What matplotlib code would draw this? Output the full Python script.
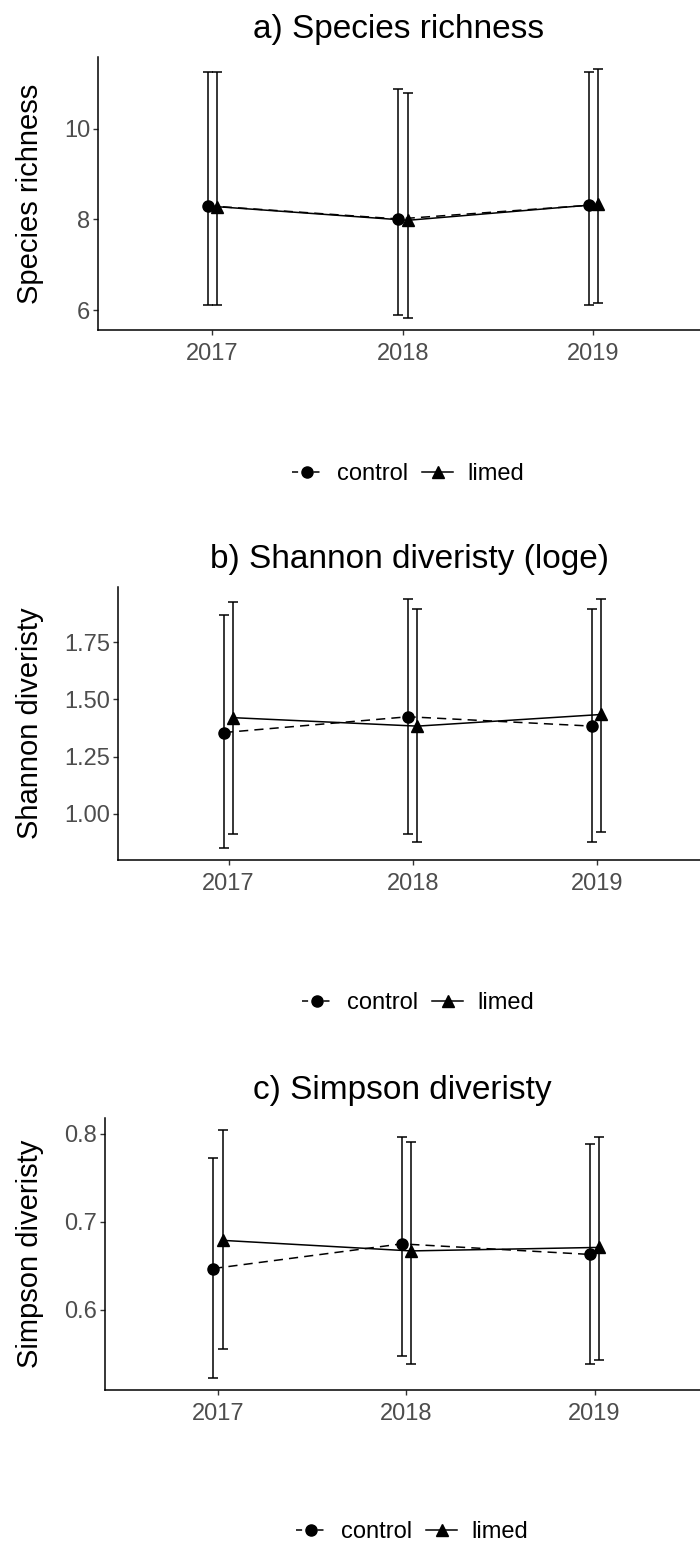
import matplotlib
matplotlib.use("Agg")
import matplotlib.pyplot as plt
from matplotlib.lines import Line2D
from matplotlib.ticker import FormatStrFormatter

plt.rcParams['font.family'] = ['Liberation Sans', 'DejaVu Sans']

years = [2017, 2018, 2019]
year_labels = ["2017", "2018", "2019"]
groups = ["control", "limed"]

# a) Species richness: mean with lower / upper interval bounds
rich_control = [8.30, 8.01, 8.31]
rich_control_lo = [6.11, 5.89, 6.11]
rich_control_hi = [11.24, 10.87, 11.25]
rich_limed = [8.28, 7.98, 8.33]
rich_limed_lo = [6.11, 5.84, 6.15]
rich_limed_hi = [11.24, 10.78, 11.30]

# b) Shannon diversity (log e)
shan_control = [1.355, 1.424, 1.383]
shan_control_lo = [0.852, 0.913, 0.878]
shan_control_hi = [1.868, 1.937, 1.893]
shan_limed = [1.420, 1.383, 1.434]
shan_limed_lo = [0.913, 0.878, 0.922]
shan_limed_hi = [1.927, 1.893, 1.937]

# c) Simpson diversity
simp_control = [0.647, 0.675, 0.663]
simp_control_lo = [0.523, 0.548, 0.539]
simp_control_hi = [0.773, 0.797, 0.789]
simp_limed = [0.679, 0.667, 0.671]
simp_limed_lo = [0.555, 0.539, 0.543]
simp_limed_hi = [0.804, 0.791, 0.796]

rich_ticks = [6, 8, 10]
shan_ticks = [1.00, 1.25, 1.50, 1.75]
simp_ticks = [0.6, 0.7, 0.8]

W, H = 700, 1546
fig = plt.figure(figsize=(W / 100, H / 100), dpi=100)


def px_rect(left, top, bottom, right=W):
    return [left / W, 1 - bottom / H, (right - left) / W, (bottom - top) / H]


panels = [
    dict(title="a) Species richness", ylabel="Species richness",
         ctrl=(rich_control, rich_control_lo, rich_control_hi),
         lime=(rich_limed, rich_limed_lo, rich_limed_hi),
         ticks=rich_ticks, fmt="%d", rect=px_rect(98, 57, 330), legend=(408, 474)),
    dict(title="b) Shannon diveristy (loge)", ylabel="Shannon diveristy",
         ctrl=(shan_control, shan_control_lo, shan_control_hi),
         lime=(shan_limed, shan_limed_lo, shan_limed_hi),
         ticks=shan_ticks, fmt="%.2f", rect=px_rect(118, 587, 860), legend=(418, 1003)),
    dict(title="c) Simpson diveristy", ylabel="Simpson diveristy",
         ctrl=(simp_control, simp_control_lo, simp_control_hi),
         lime=(simp_limed, simp_limed_lo, simp_limed_hi),
         ticks=simp_ticks, fmt="%.1f", rect=px_rect(105, 1118, 1390), legend=(412, 1532)),
]

dodge = 0.025
lw = 1.1
dash = (0, (6, 4))

for p in panels:
    ax = fig.add_axes(p["rect"])
    for (mean, lo, hi), shift, ls, mk, ms in [
        (p["ctrl"], -dodge, dash, "o", 8),
        (p["lime"], dodge, "-", "^", 8.5),
    ]:
        x = [y + shift for y in years]
        err = [[m - l for m, l in zip(mean, lo)], [h - m for m, h in zip(mean, hi)]]
        ax.errorbar(x, mean, yerr=err, fmt="none", ecolor="black",
                    elinewidth=lw, capsize=3.4, capthick=lw, zorder=2)
        ax.plot(x, mean, color="black", lw=lw, ls=ls, zorder=3)
        ax.plot(x, mean, ls="none", marker=mk, ms=ms, color="black", zorder=4)

    ax.set_xlim(2016.4, 2019.56)
    ax.set_xticks(years)
    ax.set_xticklabels(year_labels)
    ax.set_yticks(p["ticks"])
    ax.yaxis.set_major_formatter(FormatStrFormatter(p["fmt"]))
    ax.margins(y=0.05)

    for side in ("top", "right"):
        ax.spines[side].set_visible(False)
    for side in ("left", "bottom"):
        ax.spines[side].set_linewidth(1.1)
        ax.spines[side].set_color("black")
    ax.tick_params(axis="both", direction="out", length=3.5, width=1.0,
                   color="#333333", labelsize=17, labelcolor="#4D4D4D")
    ax.tick_params(axis="x", pad=6)
    ax.tick_params(axis="y", pad=2)

    ax.set_title(p["title"], fontsize=24, color="black", pad=14)
    ax.set_ylabel(p["ylabel"], fontsize=21, color="black", va="center")
    ax.yaxis.set_label_coords(30 / W, p["rect"][1] + p["rect"][3] / 2,
                              transform=fig.transFigure)

    handles = [
        Line2D([], [], color="black", lw=lw, ls=(0, (4, 3)), marker="o", ms=8),
        Line2D([], [], color="black", lw=lw, ls="-", marker="^", ms=8.5),
    ]
    cx, cy = p["legend"]
    fig.legend(handles, groups, loc="center", bbox_to_anchor=(cx / W, 1 - cy / H),
               ncol=2, frameon=False, fontsize=17, handlelength=1.3,
               handletextpad=0.6, columnspacing=0.6)

fig.savefig("out.png", dpi=100, facecolor="white")
